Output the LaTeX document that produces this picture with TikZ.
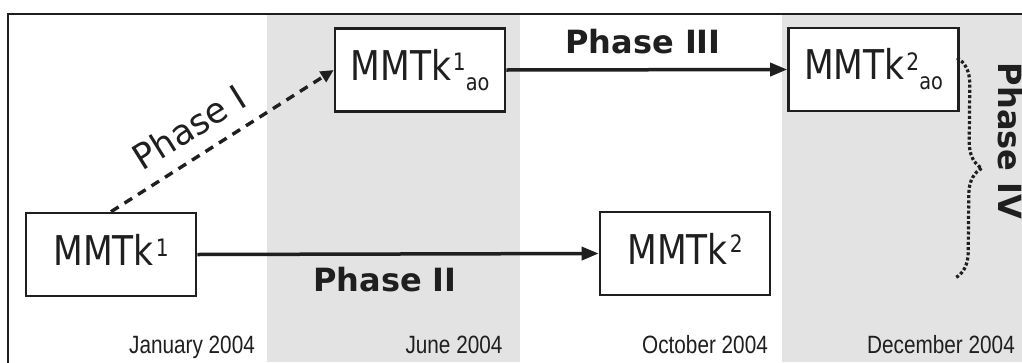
\documentclass[tikz,border=0pt]{standalone}
\usepackage{fontspec}
\setmainfont{DejaVu Sans}
\newfontfamily\boxfont[FakeStretch=0.84]{DejaVu Sans}
\newfontfamily\datefont[FakeStretch=0.83]{Liberation Sans}
\usetikzlibrary{arrows.meta,decorations.pathreplacing}
\definecolor{band}{gray}{0.89}
\definecolor{ink}{gray}{0.12}

% Version name with a raised index (raise given) and a lowered tag
\newcommand\ver[3]{{\boxfont\fontsize{41}{41}\selectfont MMTk\kern2pt\raisebox{#3}{\fontsize{24}{24}\selectfont #1}\raisebox{-10pt}{\fontsize{23}{23}\selectfont #2}}}

\tikzset{
  verbox/.style={draw=ink, fill=white, line width=2.6pt, minimum width=170pt,
    minimum height=83pt, inner sep=0pt, text=ink},
  flow/.style={draw=ink, line width=3.5pt, -{Triangle[length=17pt,width=13pt]}},
  dashflow/.style={flow, line width=3.4pt, dash pattern=on 9pt off 7pt, -{Triangle[length=13pt,width=12pt]}},
  phaselbl/.style={text=ink, font=\bfseries\fontsize{32}{32}\selectfont, inner sep=0pt},
  datelbl/.style={text=ink, font=\datefont\fontsize{25}{25}\selectfont, inner sep=0pt, anchor=base},
  bracepath/.style={draw=ink, line width=3.2pt, dash pattern=on 3pt off 2.2pt,
    decorate, decoration={brace, amplitude=26pt}},
}

\begin{document}
\begin{tikzpicture}[x=1pt, y=-1pt]
  \useasboundingbox (0,0) rectangle (1022,362);
  \clip (0,0) rectangle (1022,362);
  \fill[white] (0,0) rectangle (1022,362);

  % time bands
  \fill[band] (267,15) rectangle (520,362);
  \fill[band] (782,15) rectangle (1022,362);

  % outer frame
  \draw[ink, line width=2.2pt] (8,380) -- (8,14) -- (1040,14);

  % versions
  \node[verbox] (A) at (111,254.5) {\ver{1}{}{9pt}};
  \node[verbox] (B) at (420,70) {\ver{1}{ao}{10pt}};
  \node[verbox] (C) at (873.5,69.5) {\ver{2}{ao}{9pt}};
  \node[verbox] (D) at (685,253.5) {\ver{2}{}{12pt}};

  % phases
  \draw[dashflow] (A.north) -- (B.west);
  \draw[flow] (A.east) -- (D.west);
  \draw[flow] (B.east) -- (C.west);

  \coordinate (ptop) at (957,58);
  \coordinate (pbot) at (955,278);
  \draw[bracepath] (ptop) -- (pbot);

  \node[text=ink, font=\fontsize{35}{35}\selectfont, rotate=32, inner sep=0pt] (p1) at (189,127) {Phase I};
  \node[phaselbl] (p2) at (385,280) {Phase II};
  \node[phaselbl] (p3) at (643,42) {Phase III};
  \node[phaselbl, rotate=-90] (p4) at (1010,141) {Phase IV};

  % dates
  \node[datelbl] (d1) at (192,353) {January 2004};
  \node[datelbl] (d2) at (454,353) {June 2004};
  \node[datelbl] (d3) at (705,353) {October 2004};
  \node[datelbl] (d4) at (941,353) {December 2004};
\end{tikzpicture}
\end{document}
